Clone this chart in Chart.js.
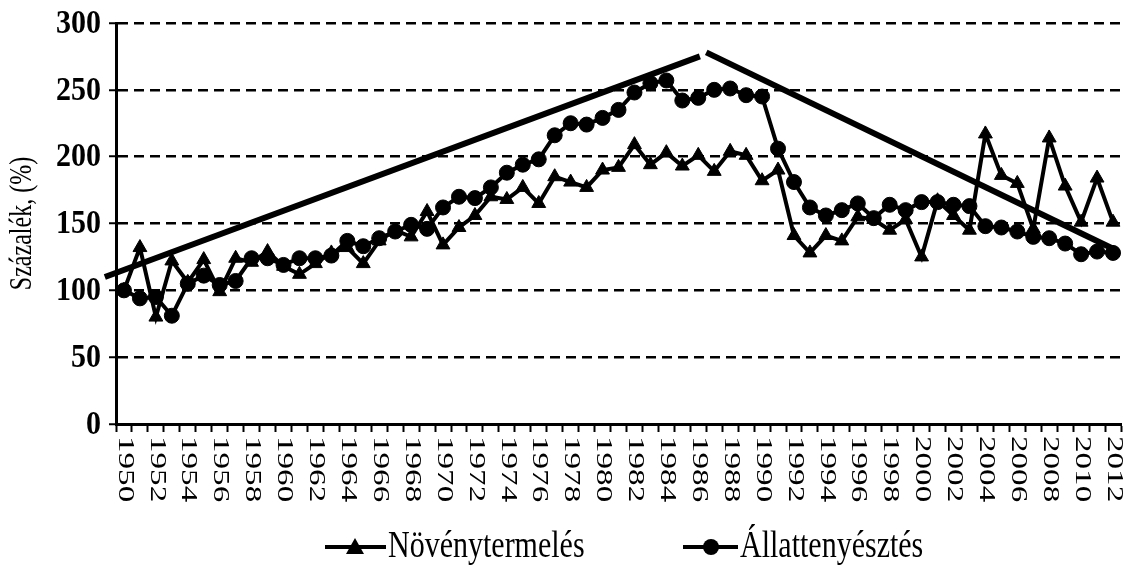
<!DOCTYPE html>
<html>
<head>
<meta charset="utf-8">
<script src="https://cdn.jsdelivr.net/npm/chart.js@4.4.0/dist/chart.umd.min.js"></script>
<style>
    html, body { margin: 0; padding: 0; background: #ffffff; }
    #wrap { width: 1130px; height: 575px; }
</style>
</head>
<body>
<div id="wrap"><canvas id="chart"></canvas></div>
<script>
// Évek (kategóriák)
const years = [
    '1950', '1951', '1952', '1953', '1954', '1955', '1956', '1957', '1958', '1959',
    '1960', '1961', '1962', '1963', '1964', '1965', '1966', '1967', '1968', '1969',
    '1970', '1971', '1972', '1973', '1974', '1975', '1976', '1977', '1978', '1979',
    '1980', '1981', '1982', '1983', '1984', '1985', '1986', '1987', '1988', '1989',
    '1990', '1991', '1992', '1993', '1994', '1995', '1996', '1997', '1998', '1999',
    '2000', '2001', '2002', '2003', '2004', '2005', '2006', '2007', '2008', '2009',
    '2010', '2011', '2012'
];

const novenytermeles = [
    100, 132, 80, 122, 106, 123, 99, 124, 121, 129,
    118, 112, 120, 128, 132, 120, 137, 145, 140, 159,
    134, 147, 156, 170, 168, 177, 165, 185, 181, 177,
    190, 192, 209, 194, 203, 193, 201, 189, 204, 201,
    182, 190, 141, 128, 141, 137, 155, 153, 145, 153,
    125, 167, 156, 145, 217, 186, 180, 146, 214, 178,
    151, 184, 151
];

const allattenyesztes = [
    100, 94, 95, 81, 105, 111, 104, 107, 124, 124,
    119, 124, 124, 126, 137, 133, 139, 144, 149, 146,
    162, 170, 169, 177, 188, 194, 198, 216, 225, 224,
    229, 235, 248, 255, 257, 242, 244, 250, 251, 246,
    245, 206, 181, 162, 156, 160, 165, 154, 164, 160,
    166, 166, 164, 163, 148, 147, 144, 140, 139, 135,
    127, 129, 128
];

// Trendvonalak (kézzel húzott egyenesek végpontjai)
const trendUpYears = [1948.8, 1986.1];
const trendUpValues = [110, 275];
const trendDownYears = [1986.5, 2012.2];
const trendDownValues = [278, 130];

const yTicks = [0, 50, 100, 150, 200, 250, 300];
const xTickLabels = [
    '1950', '1952', '1954', '1956', '1958', '1960', '1962', '1964', '1966', '1968',
    '1970', '1972', '1974', '1976', '1978', '1980', '1982', '1984', '1986', '1988',
    '1990', '1992', '1994', '1996', '1998', '2000', '2002', '2004', '2006', '2008',
    '2010', '2012'
];
const yTitle = 'Százalék, (%)';
const legendNames = ['Növénytermelés', 'Állattenyésztés'];

const SERIF = '"Liberation Serif", "Times New Roman", serif';

// Feliratok, jelmagyarázat rajzolása
const textPlugin = {
    id: 'textPlugin',
    afterDraw(chart) {
        const ctx = chart.ctx;
        const xs = chart.scales.x;
        const ys = chart.scales.y;
        ctx.save();
        ctx.fillStyle = '#000';

        // y tengely számai
        yTicks.forEach(v => {
            ctx.save();
            ctx.translate(101, ys.getPixelForValue(v) + 1);
            ctx.scale(1, 1.12);
            ctx.font = 'bold 30px ' + SERIF;
            ctx.textAlign = 'right';
            ctx.textBaseline = 'middle';
            ctx.fillText(String(v), 0, 0);
            ctx.restore();
        });

        // x tengely évszámai (függőlegesen, fentről lefelé)
        xTickLabels.forEach(lbl => {
            const px = xs.getPixelForValue(years.indexOf(lbl));
            ctx.save();
            ctx.translate(px + 1, 436);
            ctx.rotate(Math.PI / 2);
            ctx.scale(1.38, 1);
            ctx.font = '24px ' + SERIF;
            ctx.textAlign = 'left';
            ctx.textBaseline = 'middle';
            ctx.fillText(lbl, 0, 0);
            ctx.restore();
        });

        // y tengely címe
        ctx.save();
        ctx.translate(23, (ys.top + ys.bottom) / 2);
        ctx.rotate(-Math.PI / 2);
        ctx.scale(1, 1.3);
        ctx.font = '24px ' + SERIF;
        ctx.textAlign = 'center';
        ctx.textBaseline = 'middle';
        ctx.fillText(yTitle, 0, 0);
        ctx.restore();

        // jelmagyarázat
        const ly = 547;
        ctx.strokeStyle = '#000';
        ctx.lineWidth = 4;
        ctx.beginPath();
        ctx.moveTo(325, ly); ctx.lineTo(386, ly);
        ctx.moveTo(683, ly); ctx.lineTo(738, ly);
        ctx.stroke();
        ctx.beginPath();
        ctx.moveTo(355, ly - 9); ctx.lineTo(364, ly + 7); ctx.lineTo(346, ly + 7);
        ctx.closePath();
        ctx.fill();
        ctx.beginPath();
        ctx.arc(711, ly, 8, 0, Math.PI * 2);
        ctx.fill();

        ctx.save();
        ctx.translate(0, ly);
        ctx.scale(1, 1.25);
        ctx.font = '30px ' + SERIF;
        ctx.textAlign = 'left';
        ctx.textBaseline = 'middle';
        ctx.fillText(legendNames[0], 388, 0);
        ctx.fillText(legendNames[1], 740, 0);
        ctx.restore();
        ctx.restore();
    }
};

const ctx = document.getElementById('chart').getContext('2d');

const chart = new Chart(ctx, {
    type: 'line',
    data: {
        labels: years,
        datasets: [
            {
                label: legendNames[0],
                data: novenytermeles,
                borderColor: '#000',
                backgroundColor: '#000',
                borderWidth: 4,
                pointStyle: 'triangle',
                pointRadius: 8,
                pointBorderWidth: 1,
                tension: 0
            },
            {
                label: legendNames[1],
                data: allattenyesztes,
                borderColor: '#000',
                backgroundColor: '#000',
                borderWidth: 4,
                pointStyle: 'circle',
                pointRadius: 7.5,
                pointBorderWidth: 1,
                tension: 0
            },
            {
                label: 'trend1',
                data: trendUpYears.map((yr, i) => ({ x: yr, y: trendUpValues[i] })),
                xAxisID: 'x2',
                borderColor: '#000',
                borderWidth: 6,
                pointRadius: 0,
                clip: false
            },
            {
                label: 'trend2',
                data: trendDownYears.map((yr, i) => ({ x: yr, y: trendDownValues[i] })),
                xAxisID: 'x2',
                borderColor: '#000',
                borderWidth: 6,
                pointRadius: 0,
                clip: false
            }
        ]
    },
    options: {
        responsive: true,
        maintainAspectRatio: false,
        animation: false,
        layout: {
            padding: { top: 23, right: 0, left: 0, bottom: 0 }
        },
        scales: {
            x: {
                type: 'category',
                offset: true,
                afterFit: s => { s.height = 151; },
                grid: {
                    offset: true,
                    drawOnChartArea: false,
                    drawTicks: true,
                    tickLength: 8,
                    tickColor: '#000',
                    tickWidth: 2
                },
                border: { display: true, color: '#000', width: 3 },
                ticks: { display: false }
            },
            x2: {
                type: 'linear',
                display: false,
                min: 1949.5,
                max: 2012.5
            },
            y: {
                min: 0,
                max: 300,
                afterFit: s => { s.width = 116; },
                ticks: { display: false, stepSize: 50 },
                grid: {
                    color: '#000',
                    lineWidth: 2.5,
                    drawTicks: true,
                    tickLength: 7,
                    tickColor: '#000',
                    tickWidth: 2,
                    tickBorderDash: []
                },
                border: { display: true, color: '#000', width: 3, dash: [10, 6] }
            }
        },
        plugins: {
            legend: { display: false },
            tooltip: { enabled: false }
        }
    },
    plugins: [textPlugin]
});
</script>
</body>
</html>
